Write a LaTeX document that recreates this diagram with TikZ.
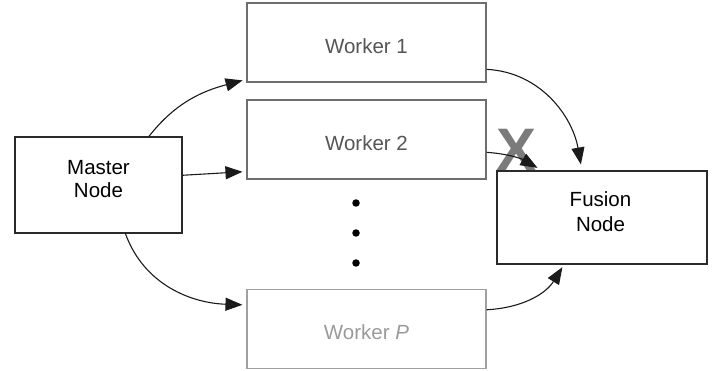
\documentclass[tikz,border=0pt]{standalone}
\usepackage{fontspec}
\setmainfont{Liberation Sans}
\usetikzlibrary{arrows.meta,calc}
\definecolor{boxdark}{HTML}{2A2A2A}
\definecolor{boxmid}{HTML}{6E6E6E}
\definecolor{txtmid}{HTML}{555555}
\definecolor{boxlight}{HTML}{A0A0A0}
\definecolor{txtlight}{HTML}{9A9A9A}
\definecolor{xgray}{HTML}{7B7B7B}
\definecolor{arr}{HTML}{1A1A1A}
\tikzset{
  box/.style={draw=boxdark, line width=1.2pt, rectangle, inner sep=0pt},
  wbox/.style={draw=boxmid, line width=1.1pt, rectangle, inner sep=0pt, minimum width=239pt, minimum height=79pt},
  lbl/.style={font=\fontsize{20.5}{24}\selectfont, inner sep=0pt, anchor=base},
  conn/.style={draw=arr, line width=1.1pt, -{Triangle[length=17pt,width=13pt]}},
  dotn/.style={circle, fill=black, inner sep=0pt, minimum size=7.5pt},
}
\begin{document}
\begin{tikzpicture}[x=1pt,y=-1pt]
\useasboundingbox (0,0) rectangle (717,371);
% boxes
\node[box, minimum width=167pt, minimum height=96pt] (master) at (98.5,185) {};
\node[wbox] (w1) at (366.5,42.5) {};
\node[wbox] (w2) at (366.5,139.5) {};
\node[wbox, draw=boxlight] (wp) at (366.5,329) {};
\node[box, minimum width=210pt, minimum height=93pt] (fusion) at (602,217.5) {};
% labels
\node[lbl, text=black] (mt1) at (98.5,175) {Master};
\node[lbl, text=black] (mt2) at (98.5,198) {Node};
\node[lbl, text=txtmid] (w1t) at (366.5,54) {Worker 1};
\node[lbl, text=txtmid] (w2t) at (366.5,151) {Worker 2};
\node[lbl, text=txtlight] (wpt) at (366.5,339) {Worker \textit{P}};
\node[lbl, text=black] (ft1) at (600.5,207) {Fusion};
\node[lbl, text=black] (ft2) at (600.5,232) {Node};
% dots
\node[dotn] (d1) at (356,203) {};
\node[dotn] (d2) at (356,233) {};
\node[dotn] (d3) at (356,263) {};
% blocked mark
\node[lbl, text=xgray, font=\fontsize{60}{62}\selectfont\bfseries] (xmark) at (517,171) {X};
% connectors
\coordinate (ms1) at ($(master.north west)!0.8!(master.north east)$);
\coordinate (ms2) at ($(master.north east)!0.4!(master.south east)$);
\coordinate (ms3) at ($(master.south west)!0.66!(master.south east)$);
\coordinate (w1in) at ($(w1.north west)!0.96!(w1.south west)$);
\coordinate (w2in) at ($(w2.north west)!0.9!(w2.south west)$);
\coordinate (wpin) at ($(wp.north west)!0.2!(wp.south west)$);
\coordinate (w1out) at ($(w1.north east)!0.835!(w1.south east)$);
\coordinate (w2out) at ($(w2.north east)!0.66!(w2.south east)$);
\coordinate (wpout) at ($(wp.north east)!0.26!(wp.south east)$);
\coordinate (fin1) at ($(fusion.north west)!0.405!(fusion.north east)$);
\coordinate (fin2) at ($(fusion.north west)!0.215!(fusion.north east)$);
\coordinate (fin3) at ($(fusion.south west)!0.32!(fusion.south east)$);
\draw[conn, shorten >=4pt] (ms1) to[out=52,in=195] (w1in);
\draw[conn, shorten >=4pt] (ms2) -- (w2in);
\draw[conn, shorten >=4pt] (ms3) to[out=-70,in=178] (wpin);
\draw[conn, shorten >=6pt] (w1out) to[out=-3,in=100] (fin1);
\draw[conn, shorten >=5pt] (w2out) to[out=-4,in=150] (fin2);
\draw[conn, shorten >=3pt] (wpout) to[out=3,in=238] (fin3);
\end{tikzpicture}
\end{document}
